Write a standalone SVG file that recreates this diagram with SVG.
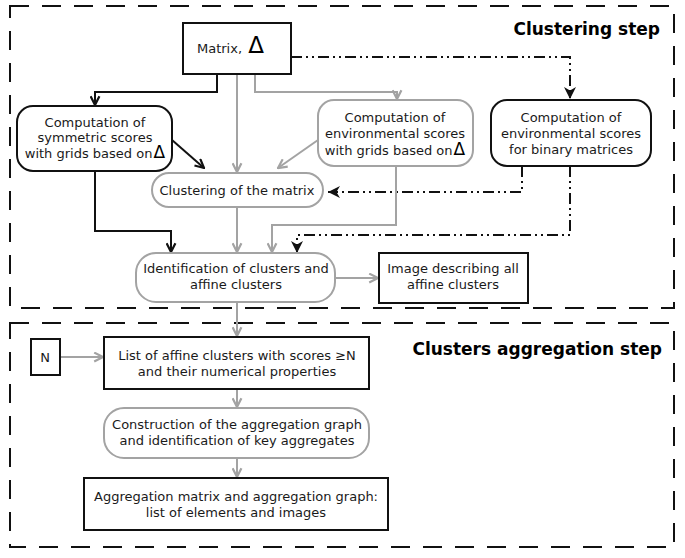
<svg xmlns="http://www.w3.org/2000/svg" width="685" height="558" viewBox="0 0 685 558">
<defs>
<style>
text{font-family:"DejaVu Sans","Liberation Sans",sans-serif;font-size:13px;fill:#1a1a1a}
.title{font-size:17px;font-weight:bold;text-anchor:end;fill:#000}
.c{text-anchor:middle}
.blk{fill:#fff;stroke:#111;stroke-width:2}
.gry{fill:#fff;stroke:#a3a3a3;stroke-width:2}
.frame{fill:none;stroke:#111;stroke-width:2;stroke-dasharray:19,13}
.lb{fill:none;stroke:#111;stroke-width:2}
.lg{fill:none;stroke:#a3a3a3;stroke-width:2}
.dd{fill:none;stroke:#111;stroke-width:2;stroke-dasharray:11,4,2,4,2,4}
.tri{font-size:17px;fill:#000}
</style>
<marker id="ab" viewBox="0 0 10 10" refX="9" refY="5" markerWidth="11" markerHeight="11" markerUnits="userSpaceOnUse" orient="auto"><path d="M1,1 L9,5 L1,9" fill="none" stroke="#111" stroke-width="2"/></marker>
<marker id="ag" viewBox="0 0 10 10" refX="9" refY="5" markerWidth="11" markerHeight="11" markerUnits="userSpaceOnUse" orient="auto"><path d="M1,1 L9,5 L1,9" fill="none" stroke="#a3a3a3" stroke-width="2"/></marker>
<marker id="af" viewBox="0 0 10 10" refX="10" refY="5" markerWidth="12" markerHeight="12" markerUnits="userSpaceOnUse" orient="auto"><path d="M0,0 L10,5 L0,10 L3,5 z" fill="#111"/></marker>
</defs>

<g id="frames">
<rect class="frame" x="10" y="6" width="664" height="302"/>
<rect class="frame" x="10" y="323" width="664" height="224"/>
<text class="title" x="660" y="35">Clustering step</text>
<text class="title" x="662" y="355">Clusters aggregation step</text>
</g>

<g id="connectors">
<polyline class="lb" points="217,74 217,92 95,92 95,105" marker-end="url(#ab)"/>
<line class="lg" x1="237" y1="74" x2="237" y2="172" marker-end="url(#ag)"/>
<polyline class="lg" points="255,74 255,92 397,92 397,99" marker-end="url(#ag)"/>
<polyline class="dd" points="291,57 570,57 570,99" marker-end="url(#af)"/>
<line class="lb" x1="172" y1="140" x2="204" y2="168" marker-end="url(#ab)"/>
<line class="lg" x1="318" y1="140" x2="278" y2="168" marker-end="url(#ag)"/>
<polyline class="dd" points="522,166 522,192 328,192" marker-end="url(#af)"/>
<polyline class="lb" points="95,171 95,231 171,231 171,252" marker-end="url(#ab)"/>
<line class="lg" x1="237" y1="207" x2="237" y2="252" marker-end="url(#ag)"/>
<polyline class="lg" points="396,166 396,225 272,225 272,252" marker-end="url(#ag)"/>
<polyline class="dd" points="570,166 570,235 297,235 297,253" marker-end="url(#af)"/>
<line class="lg" x1="335" y1="278" x2="378" y2="278" marker-end="url(#ag)"/>
<line class="lg" x1="237" y1="302" x2="237" y2="336" marker-end="url(#ag)"/>
<line class="lg" x1="60" y1="357" x2="103" y2="357" marker-end="url(#ag)"/>
<line class="lg" x1="237" y1="389" x2="237" y2="407" marker-end="url(#ag)"/>
<line class="lg" x1="237" y1="458" x2="237" y2="477" marker-end="url(#ag)"/>
</g>

<g id="matrix">
<rect class="blk" x="183" y="23" width="108" height="51"/>
<text x="197" y="53">Matrix, <tspan class="tri" style="font-size:23px" dx="2">Δ</tspan></text>
</g>

<g id="symmetric">
<rect class="blk" x="17" y="106" width="155" height="65" rx="16"/>
<text class="c" x="95" y="127">Computation of</text>
<text class="c" x="95" y="142">symmetric scores</text>
<text class="c" x="95" y="158">with grids based on <tspan class="tri" dx="-3">Δ</tspan></text>
</g>

<g id="environmental">
<rect class="gry" x="318" y="100" width="155" height="66" rx="16"/>
<text class="c" x="395" y="122">Computation of</text>
<text class="c" x="395" y="138">environmental scores</text>
<text class="c" x="395" y="155">with grids based on<tspan class="tri" dx="1">Δ</tspan></text>
</g>

<g id="binary">
<rect class="blk" x="491" y="100" width="160" height="66" rx="16"/>
<text class="c" x="571" y="122">Computation of</text>
<text class="c" x="571" y="138">environmental scores</text>
<text class="c" x="571" y="154">for binary matrices</text>
</g>

<g id="clustering">
<rect class="gry" x="152" y="173" width="171" height="34" rx="17"/>
<text class="c" x="237" y="195">Clustering of the matrix</text>
</g>

<g id="identification">
<rect class="gry" x="136" y="253" width="199" height="49" rx="20"/>
<text class="c" x="236" y="273">Identification of clusters and</text>
<text class="c" x="236" y="289">affine clusters</text>
</g>

<g id="image">
<rect class="blk" x="379" y="253" width="149" height="50"/>
<text class="c" x="453" y="273">Image describing all</text>
<text class="c" x="453" y="289">affine clusters</text>
</g>

<g id="n">
<rect class="blk" x="31" y="339" width="29" height="36"/>
<text class="c" x="45" y="362">N</text>
</g>

<g id="list">
<rect class="blk" x="104" y="337" width="265" height="52"/>
<text class="c" x="237" y="360">List of affine clusters with scores ≥N</text>
<text class="c" x="237" y="376">and their numerical properties</text>
</g>

<g id="construction">
<rect class="gry" x="104" y="408" width="265" height="50" rx="20"/>
<text class="c" x="237" y="429">Construction of the aggregation graph</text>
<text class="c" x="237" y="445">and identification of key aggregates</text>
</g>

<g id="aggregation">
<rect class="blk" x="84" y="478" width="304" height="52"/>
<text class="c" x="236" y="501">Aggregation matrix and aggregation graph:</text>
<text class="c" x="236" y="517">list of elements and images</text>
</g>
</svg>
